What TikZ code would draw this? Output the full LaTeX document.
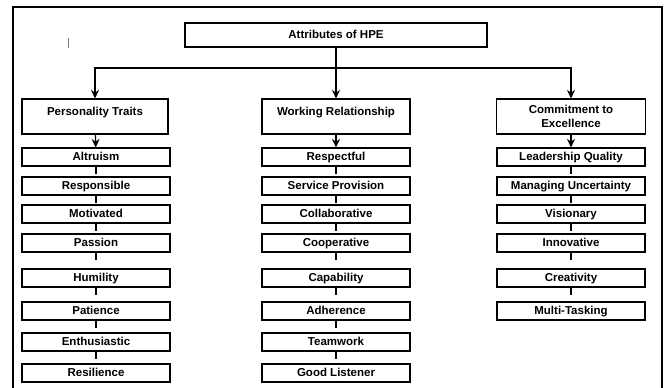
\documentclass[tikz,border=0pt]{standalone}
\usepackage{fontspec}
\setmainfont{Liberation Sans}
\usepackage{tikz}
\usetikzlibrary{calc,arrows.meta,positioning}
\tikzset{
  ar/.style={-{Stealth[length=3mm,width=2.8mm]},line width=1.3pt},
  tick/.style={line width=1.3pt},
  topbox/.style={draw,line width=1.1pt,minimum width=302,minimum height=24,text height=8.5pt,text depth=2.5pt,font=\fontsize{11.5}{13}\selectfont\bfseries},
  headbox/.style={draw,line width=1.1pt,minimum height=35,align=center,font=\fontsize{11.5}{14}\selectfont\bfseries},
  leaf/.style={draw,line width=1.1pt,minimum height=18,inner sep=1pt,text height=8.5pt,text depth=2.5pt,font=\fontsize{11.5}{13}\selectfont\bfseries}
}
\begin{document}
\begin{tikzpicture}[x=1pt,y=-1pt]
\useasboundingbox (0,0) rectangle (664,388);
% page frame and cursor
\draw[line width=1.8pt] (13,388) -- (13,7) -- (662,7) -- (662,388);
\draw[gray,line width=0.8pt] (68,38) -- (68,48);
% root
\node[topbox] (hpe) at (336,35) {Attributes of HPE};
\coordinate (bus) at (336,68);
% headings
\node[headbox,minimum width=146] (pt) at (95,116.5) {Personality Traits\\[-3pt]\mbox{}};
\node[headbox,minimum width=148] (wr) at (336,116.5) {Working Relationship\\[-3pt]\mbox{}};
\node[headbox,minimum width=149] (ce) at (571,116.5) {Commitment to\\Excellence};
\draw[line width=1.3pt] (hpe) -- (bus);
\draw[ar] (bus) -| (pt.north);
\draw[ar] (hpe) -- (wr);
\draw[ar] (bus) -| (ce.north);
% leaves
\foreach \i/\y/\txt in {1/157/Altruism,2/186/Responsible,3/214/Motivated,4/243/Passion,
  5/278/Humility,6/311/Patience,7/342/Enthusiastic,8/373/Resilience}
  \node[leaf,minimum width=148] (pt\i) at (96,\y) {\txt};
\foreach \i/\y/\txt in {1/157/Respectful,2/186/Service Provision,3/214/Collaborative,4/243/Cooperative,
  5/278/Capability,6/311/Adherence,7/342/Teamwork,8/373/Good Listener}
  \node[leaf,minimum width=148] (wr\i) at (336,\y) {\txt};
\foreach \i/\y/\txt in {1/157/Leadership Quality,2/186/Managing Uncertainty,3/214/Visionary,
  4/243/Innovative,5/278/Creativity,6/311/Multi-Tasking}
  \node[leaf,minimum width=148] (ce\i) at (571,\y) {\txt};
\draw[ar] (pt) -- (pt1);
\draw[ar] (wr) -- (wr1);
\draw[ar] (ce) -- (ce1);
% short ticks under the leaves
\foreach \col/\n in {pt/7,wr/7,ce/5}
  \foreach \i in {1,...,\n}
    \draw[tick] (\col\i.south) -- ($(\col\i.south)+(0,7)$) coordinate (\col\i tip);
\end{tikzpicture}
\end{document}
